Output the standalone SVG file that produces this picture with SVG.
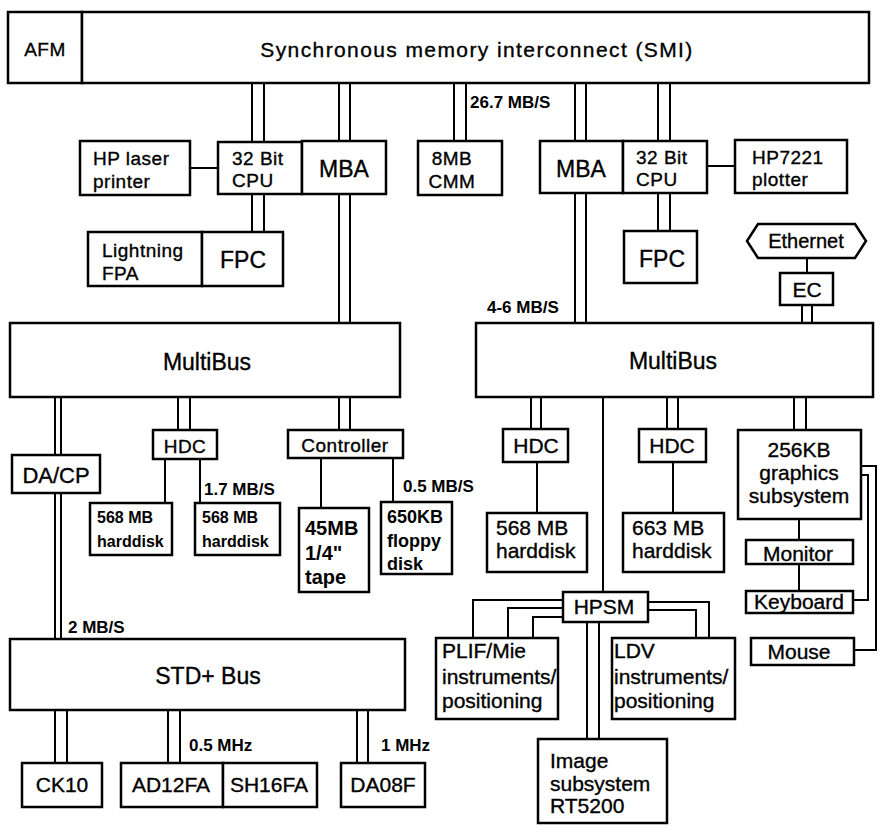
<svg xmlns="http://www.w3.org/2000/svg" width="880" height="834" viewBox="0 0 880 834">
<style>
.box{fill:#fff;stroke:#000;stroke-width:2.5}
.ln{fill:none;stroke:#000;stroke-width:2}
text{font-family:"Liberation Sans",Arial,Helvetica,sans-serif;fill:#000;stroke:#000;stroke-width:0.35}
.f19{font-size:19px;letter-spacing:0.5px}
.f21{font-size:21px}
.f23{font-size:23px}
.b16{font-size:16px;font-weight:bold;stroke-width:0}
.b18{font-size:18px;font-weight:bold;stroke-width:0}
.b20{font-size:20px;font-weight:bold;stroke-width:0}
.rate{font-size:17px;font-weight:bold;stroke-width:0}
.c{text-anchor:middle}
</style>
<rect width="880" height="834" fill="#fff"/>
<g id="connectors">
<path class="ln" d="M252 83V141M264 83V141 M339 83V141M350 83V141 M339 194V323M350 194V323 M454 83V141M466 83V141 M575 83V141M586 83V141 M575 193V323M586 193V323 M658 83V141M670 83V141 M252 194V232M264 194V232 M658 193V231M670 193V231 M802 305V323M812 305V323 M55 397V455M61 397V455 M55 493V639M61 493V639 M178 397V430M190 397V430 M339 397V430M350 397V430 M531 397V429M541 397V429 M667 397V429M678 397V429 M794 397V430M806 397V430 M587 622V739M599 622V739 M55 710V763M67 710V763 M168 710V763M180 710V763 M357 710V763M368 710V763"/>
<path class="ln" d="M190 168H218 M707 166H735 M807 258V273 M165 459V503 M200 459V503 M321 457V508 M393 457V502 M537 462V513 M673 462V513 M603 397V592 M799 519V540 M799 564V591 M861 466H876V650H854 M861 475H868V600H853 M563 600H473V638 M563 608H508V638 M563 617H533V638 M648 602H709V638 M648 610H696V638"/>
</g>
<g id="afm"><rect class="box" x="8" y="12" width="74" height="71"/><text class="f19 c" x="45" y="56">AFM</text></g>
<g id="smi"><rect class="box" x="82" y="12" width="787" height="71"/><text class="c" x="477" y="57" style="font-size:21px;letter-spacing:1.4px">Synchronous memory interconnect (SMI)</text></g>
<g id="hp-laser"><rect class="box" x="80" y="141" width="110" height="54"/><text class="f19" x="93" y="165">HP laser</text><text class="f19" x="93" y="188">printer</text></g>
<g id="cpu-left"><rect class="box" x="218" y="142" width="84" height="52"/><text class="f19" x="232" y="165">32 Bit</text><text class="f19" x="232" y="187">CPU</text></g>
<g id="mba-left"><rect class="box" x="302" y="141" width="84" height="53"/><text class="f23 c" x="344" y="177">MBA</text></g>
<g id="lightning"><rect class="box" x="88" y="232" width="114" height="54"/><text class="f19" x="102" y="257">Lightning</text><text class="f19" x="102" y="280">FPA</text></g>
<g id="fpc-left"><rect class="box" x="202" y="232" width="81" height="54"/><text class="f23 c" x="243" y="268">FPC</text></g>
<g id="cmm"><rect class="box" x="418" y="141" width="84" height="54"/><text class="f19 c" x="452" y="165">8MB</text><text class="f19 c" x="452" y="188">CMM</text></g>
<text class="rate" x="470" y="108">26.7 MB/S</text>
<g id="mba-right"><rect class="box" x="540" y="141" width="83" height="52"/><text class="f23 c" x="581" y="177">MBA</text></g>
<g id="cpu-right"><rect class="box" x="623" y="141" width="84" height="52"/><text class="f19" x="636" y="164">32 Bit</text><text class="f19" x="636" y="186">CPU</text></g>
<g id="plotter"><rect class="box" x="735" y="140" width="112" height="53"/><text class="f19" x="752" y="164">HP7221</text><text class="f19" x="752" y="186">plotter</text></g>
<g id="fpc-right"><rect class="box" x="624" y="231" width="73" height="52"/><text class="f23 c" x="662" y="267">FPC</text></g>
<g id="ethernet"><polygon class="box" points="747,241 758,224 855,224 866,241 855,258 758,258"/><text class="c" x="806" y="248" style="font-size:20px">Ethernet</text></g>
<g id="ec"><rect class="box" x="780" y="273" width="53" height="32"/><text class="f21 c" x="807" y="297">EC</text></g>
<text class="rate" x="487" y="313">4-6 MB/S</text>
<g id="multibus-left"><rect class="box" x="10" y="323" width="390" height="74"/><text class="f23 c" x="207" y="370">MultiBus</text></g>
<g id="multibus-right"><rect class="box" x="476" y="323" width="397" height="74"/><text class="f23 c" x="673" y="369">MultiBus</text></g>
<g id="dacp"><rect class="box" x="12" y="455" width="88" height="38"/><text class="c" x="56" y="483" style="font-size:22px">DA/CP</text></g>
<g id="hdc-left"><rect class="box" x="153" y="430" width="64" height="29"/><text class="f19 c" x="185" y="453">HDC</text></g>
<g id="disk-l1"><rect class="box" x="90" y="503" width="82" height="52"/><text class="b16" x="97" y="523">568 MB</text><text class="b16" x="97" y="547">harddisk</text></g>
<g id="disk-l2"><rect class="box" x="195" y="503" width="85" height="52"/><text class="b16" x="202" y="523">568 MB</text><text class="b16" x="202" y="547">harddisk</text></g>
<text class="rate" x="204" y="495">1.7 MB/S</text>
<g id="controller"><rect class="box" x="288" y="430" width="115" height="28"/><text class="f19 c" x="345" y="452">Controller</text></g>
<g id="tape"><rect class="box" x="299" y="508" width="70" height="84"/><text class="b20" x="305" y="535">45MB</text><text class="b20" x="305" y="560">1/4"</text><text class="b20" x="305" y="584">tape</text></g>
<g id="floppy"><rect class="box" x="381" y="502" width="71" height="72"/><text class="b18" x="387" y="523">650KB</text><text class="b18" x="387" y="547">floppy</text><text class="b18" x="387" y="570">disk</text></g>
<text class="rate" x="403" y="492">0.5 MB/S</text>
<g id="hdc-r1"><rect class="box" x="503" y="429" width="65" height="33"/><text class="f21 c" x="536" y="453">HDC</text></g>
<g id="disk-r1"><rect class="box" x="487" y="513" width="100" height="59"/><text class="f21" x="496" y="535">568 MB</text><text class="f21" x="496" y="558">harddisk</text></g>
<g id="hdc-r2"><rect class="box" x="639" y="429" width="67" height="33"/><text class="f21 c" x="672" y="453">HDC</text></g>
<g id="disk-r2"><rect class="box" x="623" y="513" width="101" height="59"/><text class="f21" x="632" y="535">663 MB</text><text class="f21" x="632" y="558">harddisk</text></g>
<g id="graphics"><rect class="box" x="738" y="430" width="123" height="89"/><text class="f21 c" x="799" y="457">256KB</text><text class="f21 c" x="799" y="480">graphics</text><text class="f21 c" x="799" y="503">subsystem</text></g>
<g id="monitor"><rect class="box" x="746" y="540" width="107" height="24"/><text class="f21 c" x="798" y="561">Monitor</text></g>
<g id="keyboard"><rect class="box" x="746" y="591" width="107" height="22"/><text class="f21 c" x="799" y="609">Keyboard</text></g>
<g id="mouse"><rect class="box" x="751" y="638" width="103" height="27"/><text class="f21 c" x="799" y="659">Mouse</text></g>
<g id="hpsm"><rect class="box" x="563" y="592" width="85" height="30"/><text class="f21 c" x="604" y="614">HPSM</text></g>
<g id="plif"><rect class="box" x="436" y="638" width="122" height="81"/><text class="f21" x="442" y="658">PLIF/Mie</text><text class="f21" x="442" y="684">instruments/</text><text class="f21" x="442" y="708">positioning</text></g>
<g id="ldv"><rect class="box" x="612" y="638" width="123" height="81"/><text class="f21" x="614" y="658">LDV</text><text class="f21" x="614" y="684">instruments/</text><text class="f21" x="614" y="708">positioning</text></g>
<g id="image"><rect class="box" x="538" y="739" width="129" height="84"/><text class="f21" x="550" y="768">Image</text><text class="f21" x="550" y="791">subsystem</text><text class="f21" x="550" y="813">RT5200</text></g>
<g id="std-bus"><rect class="box" x="10" y="639" width="395" height="71"/><text class="c" x="208" y="684" style="font-size:23px">STD+ Bus</text></g>
<text class="rate" x="68" y="633">2 MB/S</text>
<g id="ck10"><rect class="box" x="22" y="763" width="80" height="44"/><text class="f21 c" x="62" y="792">CK10</text></g>
<g id="ad12fa"><rect class="box" x="121" y="763" width="102" height="44"/><text class="f21 c" x="171" y="792">AD12FA</text></g>
<g id="sh16fa"><rect class="box" x="223" y="763" width="94" height="44"/><text class="f21 c" x="269" y="792">SH16FA</text></g>
<g id="da08f"><rect class="box" x="341" y="763" width="84" height="44"/><text class="f21 c" x="383" y="792">DA08F</text></g>
<text class="rate" x="189" y="751">0.5 MHz</text>
<text class="rate" x="381" y="751">1 MHz</text>
</svg>
